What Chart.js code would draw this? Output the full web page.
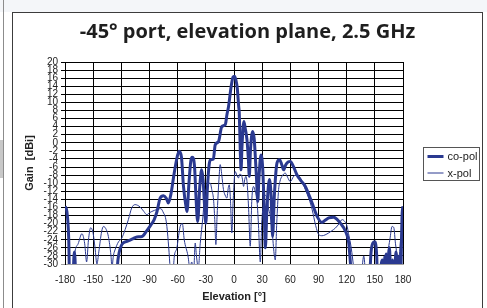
<!DOCTYPE html>
<html>
<head>
<meta charset="utf-8">
<script src="https://cdn.jsdelivr.net/npm/chart.js@4/dist/chart.umd.min.js"></script>
<style>
  body { margin: 0; background: #fff; width: 487px; height: 308px; overflow: hidden; position: relative; }
  #topStrip { position: absolute; left: 0; top: 0; width: 487px; height: 12px; background: #f4f6f9; }
  #leftLine { position: absolute; left: 3px; top: 0; width: 1px; height: 308px; background: #8c8c8c; }
  #leftTab { position: absolute; left: 0; top: 140px; width: 3px; height: 38px; background: #c8c8c8; }
  #frame { position: absolute; left: 12px; top: 12px; width: 469px; height: 320px; border: 1px solid #3c3c3c; background: #fff; }
  #chartBox { position: absolute; left: 0; top: 0; width: 487px; height: 308px; }
</style>
</head>
<body>
<div id="topStrip"></div>
<div id="leftLine"></div>
<div id="leftTab"></div>
<div id="frame"></div>
<div id="chartBox"><canvas id="grafico" width="487" height="308"></canvas></div>
<script>
// Datos (elevacion en grados, ganancia en dBi)
const elevationTicks = [-180, -150, -120, -90, -60, -30, 0, 30, 60, 90, 120, 150, 180];
const gainTicks = [-30, -28, -26, -24, -22, -20, -18, -16, -14, -12, -10, -8, -6, -4, -2, 0, 2, 4, 6, 8, 10, 12, 14, 16, 18, 20];

const coPolAngles = [-180, -178, -176, -175, -172, -170, -168, -160, -140, -126, -124, -123, -119.5, -114, -108, -103.5, -98, -93, -89, -85, -82, -78.7, -75, -72, -70, -67, -64.5, -61, -58.5, -56, -53.8, -51, -50, -48, -46, -44.5, -42, -40.7, -38.7, -36.5, -34.5, -33, -31.5, -30, -28.5, -26.5, -25, -22, -20, -16.5, -13, -9.3, -7.5, -5.8, -3, -1, 0.5, 2, 3.5, 5, 5.6, 6.8, 7.5, 8.5, 10.5, 12, 13.8, 15.3, 16.3, 17.5, 19.8, 21.5, 22.7, 24, 25.3, 26.5, 28.7, 30.5, 32, 33.4, 35, 37.6, 39.5, 41.1, 43, 45.8, 48.5, 51, 52.9, 55, 58, 60, 63, 67, 71, 76, 80, 83.2, 88.5, 93.8, 97, 100.9, 106.2, 110, 113.3, 118.7, 122.2, 124, 126, 135, 144, 146, 148, 150, 152, 153, 155, 158, 160, 162, 164, 165.5, 167, 169, 171, 172.5, 174, 176, 177.5, 179, 180];
const coPolGain = [-15.7, -17, -24, -35, -35, -27, -35, -40, -40, -40, -30, -28, -25.2, -24.4, -23.8, -23.3, -23.2, -21.8, -20.5, -19, -17, -13.7, -13.1, -13.8, -14.9, -12.5, -8.7, -4, -2.1, -3.5, -10.8, -16, -17, -10, -4.5, -3.6, -6, -12.4, -19.5, -11, -6.7, -9, -15, -19.9, -12, -5.5, -4.2, -4, -0.5, 0.3, 4, 4.5, 7, 9, 14, 16.3, 16.5, 15.6, 13.5, 9, 7.4, -3, -6.7, -1, 5.3, 3.5, 0.8, -4, -8.3, -2, 2.8, 1, -3.4, -9, -14.5, -9, -3, -6, -15, -26, -17, -9.1, -13, -23.2, -13, -5, -4.2, -5.5, -6.7, -5.5, -4.7, -4.6, -5.7, -7.9, -9.3, -10.8, -13, -14.9, -18.2, -19.7, -19.2, -18.6, -18.4, -19, -19.9, -21.9, -24.8, -29.7, -35, -40, -35, -27, -24.8, -24.5, -28, -35, -33, -29, -31, -27.5, -33, -26, -32, -29, -33, -27, -33, -28, -33, -18, -15.7];

const xPolAngles = [-180, -176, -172, -169, -166, -162, -159, -157, -155, -152.6, -150, -148, -146, -144, -141, -139, -136, -133.8, -131, -130, -128.5, -126.7, -123, -119.5, -116, -112.5, -108.9, -105.3, -100, -96, -92.9, -90, -87.5, -82, -78, -75, -73, -71.5, -69.5, -68, -66, -63.5, -60.8, -59, -57.3, -55, -53, -49, -47, -45, -43, -41.3, -40, -38, -36, -33, -31, -29, -27, -25.3, -23.5, -21.8, -20.5, -19.3, -18, -16, -14.7, -13, -11.2, -9, -7.6, -6, -5.1, -3.8, -2.3, -1, 1.2, 3, 4.8, 6, 7.7, 9, 10.2, 11.5, 12.7, 14, 15.5, 17.3, 19, 20.8, 22.5, 24.4, 26, 28, 29.5, 31.5, 33, 35, 36.5, 38.7, 41, 43, 44, 45.5, 47.5, 49, 51.1, 54.6, 57, 60, 63.5, 66, 70.7, 76, 80, 83.2, 87, 90.2, 93.8, 97, 100.9, 104, 108, 112, 115.1, 118, 120.5, 122, 124, 126, 127.5, 130, 134, 136, 138.2, 140, 142, 155, 158, 160, 162, 164, 166, 168.4, 170.2, 172, 174, 175.5, 177, 179, 180];
const xPolGain = [-35, -35, -32, -26.5, -25, -22.5, -25, -29.5, -24, -21, -22.5, -26, -30, -27, -22, -20.7, -21.5, -23.2, -28, -31, -28, -26.5, -24.5, -23.6, -21.5, -19, -16.1, -15.3, -15.9, -17, -17.8, -17.3, -17, -16.5, -16.3, -17.4, -18.5, -20.7, -26, -31, -35, -28, -26, -23, -20.7, -20, -24, -28, -31, -29.5, -32, -24.8, -28, -31, -25, -18, -12, -11.5, -10, -10, -11.8, -14, -19, -25.2, -18, -9, -5.4, -8, -11.6, -13.2, -13.7, -11, -10.4, -14, -22.3, -15, -7.1, -8, -8.7, -7.8, -7.9, -9, -10.8, -9, -8.3, -10, -16, -25.6, -14, -10.8, -12, -14.1, -20, -29.5, -20, -14.9, -13, -13.5, -16, -18.2, -23, -28, -29, -20, -11.6, -9.5, -8.3, -7.5, -8.5, -9.6, -8.3, -8, -8.7, -11.6, -14, -16.5, -20.5, -22.7, -23, -22.8, -22.3, -21.8, -21.1, -20, -19, -19.5, -20.7, -22.5, -24.8, -28, -31, -35, -35, -32, -28, -32, -35, -35, -31, -28, -32, -27, -24, -20.7, -21, -25, -28, -29.4, -25, -20, -16];

const colorSerie = '#2a3990';

function aPuntos(angulos, valores) {
    return angulos.map((a, i) => ({ x: a, y: valores[i] }));
}

// Leyenda con borde, a la derecha del area del grafico
const leyendaCaja = {
    id: 'leyendaCaja',
    afterLayout(chart) {
        // centrar el titulo sobre todo el marco
        const t = chart.titleBlock;
        if (t) { t.left = 13; t.right = 482; t.width = 469; }
    },
    afterDraw(chart) {
        const ctx = chart.ctx;
        const area = chart.chartArea;
        const x0 = area.right + 20.5;
        const y0 = Math.round((area.top + area.bottom) / 2) - 15.5;
        ctx.save();
        ctx.fillStyle = '#fff';
        ctx.strokeStyle = '#555';
        ctx.lineWidth = 1;
        ctx.fillRect(x0, y0, 56, 33);
        ctx.strokeRect(x0, y0, 56, 33);
        ctx.font = '11px "Liberation Sans", Arial, sans-serif';
        ctx.textBaseline = 'middle';
        chart.data.datasets.forEach((ds, i) => {
            const y = y0 + 9 + i * 16.5;
            ctx.strokeStyle = ds.borderColor;
            ctx.lineWidth = ds.borderWidth;
            ctx.beginPath();
            ctx.moveTo(x0 + 4, y);
            ctx.lineTo(x0 + 20, y);
            ctx.stroke();
            ctx.fillStyle = '#222';
            ctx.fillText(ds.label, x0 + 24, y + 0.5);
        });
        ctx.restore();
    }
};

const ctx = document.getElementById('grafico').getContext('2d');
window.graficoElevacion = new Chart(ctx, {
    type: 'line',
    data: {
        datasets: [{
            label: 'co-pol',
            data: aPuntos(coPolAngles, coPolGain),
            borderColor: colorSerie,
            borderWidth: 3,
            pointRadius: 0,
            cubicInterpolationMode: 'monotone'
        }, {
            label: 'x-pol',
            data: aPuntos(xPolAngles, xPolGain),
            borderColor: colorSerie,
            borderWidth: 1,
            pointRadius: 0,
            cubicInterpolationMode: 'monotone'
        }]
    },
    options: {
        responsive: false,
        animation: false,
        layout: { padding: { left: 0, right: 84, top: 0, bottom: 0 } },
        plugins: {
            legend: { display: false },
            tooltip: { enabled: false },
            title: {
                display: true,
                text: '-45° port, elevation plane, 2.5 GHz',
                color: '#1e1e1e',
                font: { family: '"Open Sans", sans-serif', size: 20, weight: 'bold', lineHeight: 1.2 },
                padding: { top: 20, bottom: 18 }
            }
        },
        scales: {
            x: {
                type: 'linear',
                min: -180,
                max: 180,
                afterBuildTicks: s => { s.ticks = elevationTicks.map(v => ({ value: v })); },
                afterFit: s => { s.height = 44; },
                grid: { color: '#000', lineWidth: 1, drawTicks: false },
                border: { color: '#a0a0a0' },
                ticks: {
                    color: '#222',
                    padding: 10,
                    maxRotation: 0,
                    autoSkip: false,
                    font: { family: '"Liberation Sans", Arial, sans-serif', size: 10 }
                },
                title: {
                    display: true,
                    text: 'Elevation [°]',
                    color: '#222',
                    font: { family: '"Liberation Sans", Arial, sans-serif', size: 11, weight: 'bold' },
                    padding: { top: 0, bottom: 4 }
                }
            },
            y: {
                min: -30,
                max: 20,
                afterBuildTicks: s => { s.ticks = gainTicks.map(v => ({ value: v })); },
                afterFit: s => { s.width = 65; },
                grid: {
                    color: c => (c.tick && c.tick.value === -30 ? '#a0a0a0' : '#000'),
                    lineWidth: 1,
                    tickLength: 4
                },
                border: { color: '#000' },
                ticks: {
                    color: '#222',
                    padding: 3,
                    autoSkip: false,
                    font: { family: '"Liberation Sans", Arial, sans-serif', size: 10 }
                },
                title: {
                    display: true,
                    text: 'Gain  [dBi]',
                    color: '#222',
                    font: { family: '"Liberation Sans", Arial, sans-serif', size: 11, weight: 'bold' },
                    padding: { top: 23, bottom: 0 }
                }
            }
        }
    },
    plugins: [leyendaCaja]
});
</script>
</body>
</html>
